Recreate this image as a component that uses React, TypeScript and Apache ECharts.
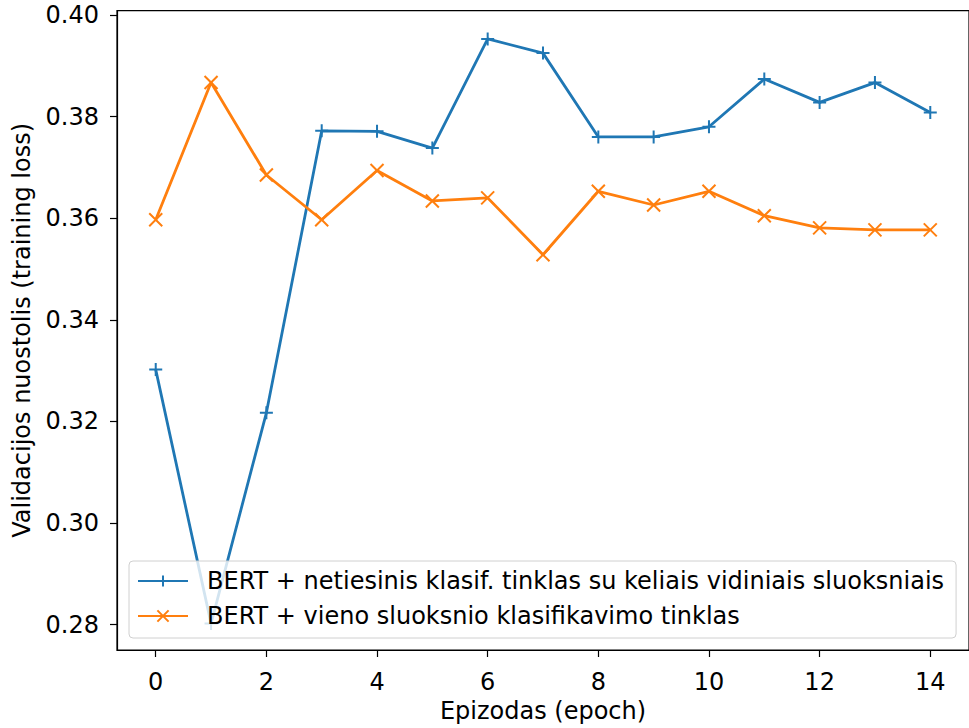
import React, { useEffect, useRef } from "react";
import * as echarts from "echarts";

const epochs = [0, 1, 2, 3, 4, 5, 6, 7, 8, 9, 10, 11, 12, 13, 14];
const seriesNames = [
  "BERT + netiesinis klasif. tinklas su keliais vidiniais sluoksniais",
  "BERT + vieno sluoksnio klasifikavimo tinklas",
];
const nonlinearLoss = [
  0.3302, 0.2802, 0.3217, 0.3772, 0.3771, 0.3738, 0.3953, 0.3925, 0.376, 0.376,
  0.378, 0.3874, 0.3828, 0.3867, 0.3808,
];
const singleLayerLoss = [
  0.3597, 0.3867, 0.3685, 0.3597, 0.3694, 0.3634, 0.364, 0.3528, 0.3653, 0.3626,
  0.3653, 0.3605, 0.3581, 0.3577, 0.3577,
];
const xTicks = [0, 2, 4, 6, 8, 10, 12, 14];
const yTicks = [0.28, 0.3, 0.32, 0.34, 0.36, 0.38, 0.4];
const xTitle = "Epizodas (epoch)";
const yTitle = "Validacijos nuostolis (training loss)";

const FONT = "DejaVu Sans";
const FS = 24;
const PLUS = "path://M5,0L5,10M0,5L10,5";
const CROSS = "path://M0,0L10,10M10,0L0,10";

export default function App() {
  const ref = useRef<HTMLDivElement>(null);
  useEffect(() => {
    document.body.style.margin = "0";
    if (!ref.current) return;
    const chart = echarts.init(ref.current, null, { renderer: "svg" });
    const pairs = (vals: number[]) => epochs.map((e, i) => [e, vals[i]]);
    chart.setOption({
      animation: false,
      backgroundColor: "#ffffff",
      textStyle: { fontFamily: FONT },
      grid: {
        left: 117,
        right: -5.5,
        top: 10.7,
        bottom: 77.3,
        show: true,
        borderColor: "#000",
        borderWidth: 1.2,
        backgroundColor: "transparent",
      },
      xAxis: {
        type: "value",
        min: -0.7,
        max: 14.7,
        name: xTitle,
        nameLocation: "middle",
        nameGap: 49,
        nameTextStyle: { fontFamily: FONT, fontSize: FS, color: "#000" },
        axisLine: { show: true, onZero: false, lineStyle: { color: "#000", width: 1.2 } },
        splitLine: { show: false },
        axisTick: {
          show: true,
          inside: false,
          length: 7,
          lineStyle: { color: "#000", width: 1.2 },
          customValues: xTicks,
        },
        axisLabel: {
          fontFamily: FONT,
          fontSize: FS,
          color: "#000",
          margin: 20,
          customValues: xTicks,
          formatter: (v: number) => String(v),
        },
      },
      yAxis: {
        type: "value",
        min: 0.275,
        max: 0.40085,
        name: yTitle,
        nameLocation: "middle",
        nameGap: 83,
        nameRotate: 90,
        nameTextStyle: { fontFamily: FONT, fontSize: FS, color: "#000" },
        axisLine: { show: true, onZero: false, lineStyle: { color: "#000", width: 1.2 } },
        splitLine: { show: false },
        axisTick: {
          show: true,
          inside: false,
          length: 7,
          lineStyle: { color: "#000", width: 1.2 },
          customValues: yTicks,
        },
        axisLabel: {
          fontFamily: FONT,
          fontSize: FS,
          color: "#000",
          margin: 18,
          customValues: yTicks,
          formatter: (v: number) => v.toFixed(2),
        },
      },
      legend: {
        orient: "vertical",
        left: 129,
        top: 561,
        padding: [8, 12, 10, 8],
        itemWidth: 50,
        itemHeight: 14,
        itemGap: 11,
        backgroundColor: "rgba(255,255,255,0.8)",
        borderColor: "#d0d0d0",
        borderWidth: 1,
        borderRadius: 4,
        textStyle: {
          fontFamily: FONT,
          fontSize: FS,
          color: "#000",
          lineHeight: 24,
          padding: [0, 0, 0, 14],
        },
        data: seriesNames,
      },
      series: [
        {
          name: seriesNames[0],
          type: "line",
          data: pairs(nonlinearLoss),
          symbol: PLUS,
          symbolSize: 13,
          lineStyle: { color: "#1f77b4", width: 2.8 },
          itemStyle: { color: "#1f77b4", borderColor: "#1f77b4", borderWidth: 2 },
        },
        {
          name: seriesNames[1],
          type: "line",
          data: pairs(singleLayerLoss),
          symbol: CROSS,
          symbolSize: 13,
          lineStyle: { color: "#ff7f0e", width: 2.8 },
          itemStyle: { color: "#ff7f0e", borderColor: "#ff7f0e", borderWidth: 2 },
        },
      ],
    });
    return () => chart.dispose();
  }, []);
  return <div ref={ref} style={{ width: 969, height: 728 }} />;
}
